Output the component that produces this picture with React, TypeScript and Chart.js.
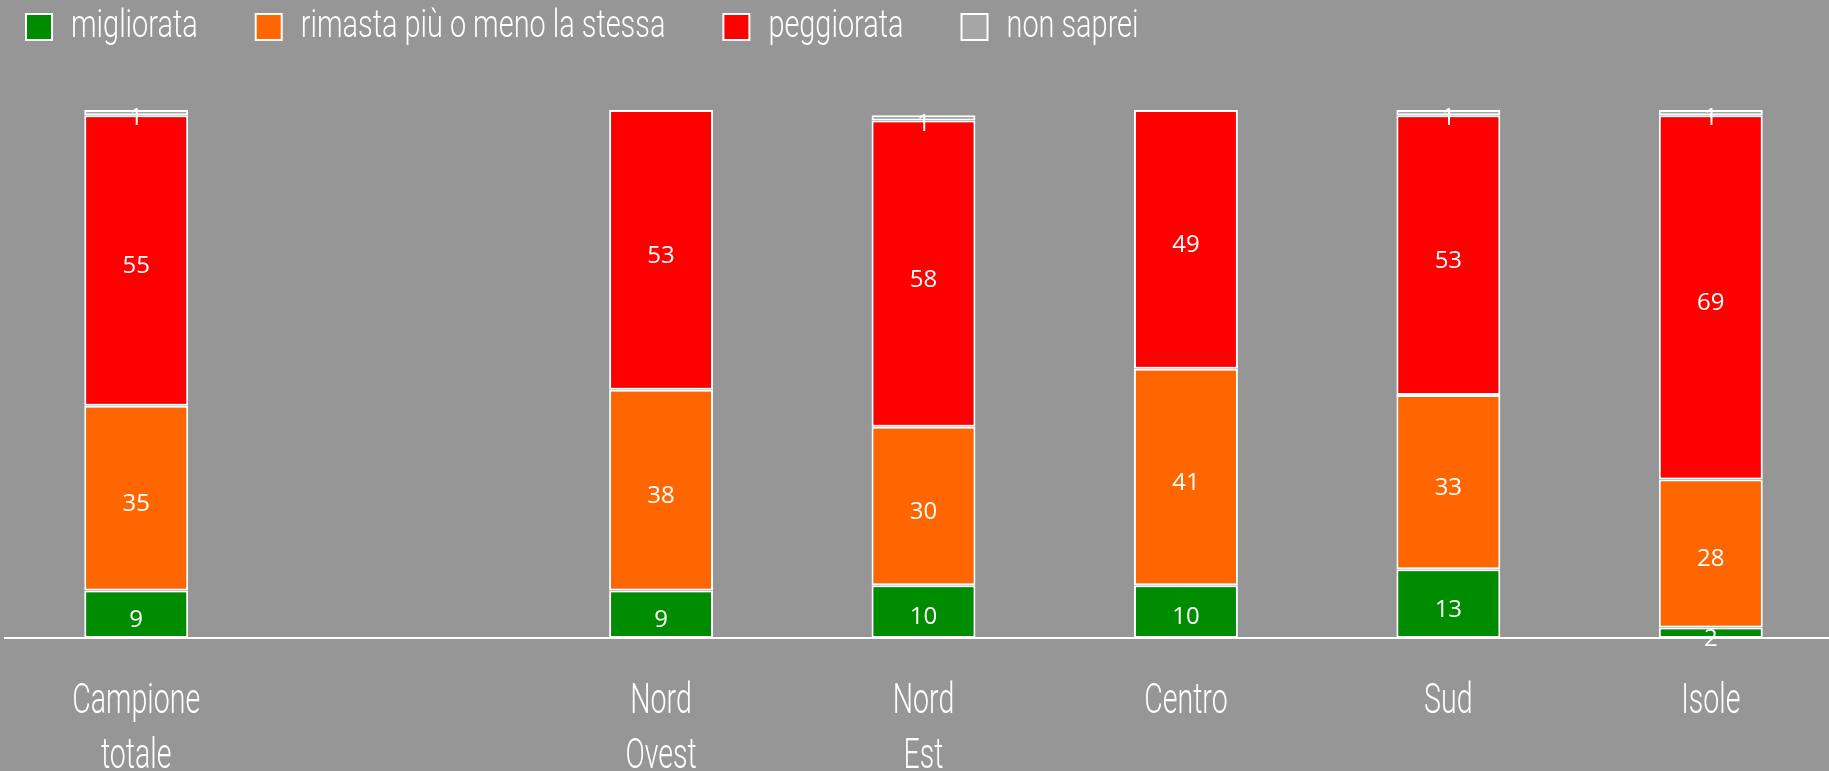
import React, { useEffect, useRef } from 'react';
import { Chart, registerables } from 'chart.js';

Chart.register(...registerables);

const categories: (string | string[])[] = [
  ['Campione', 'totale'],
  '',
  ['Nord', 'Ovest'],
  ['Nord', 'Est'],
  'Centro',
  'Sud',
  'Isole',
];
const seriesNames = ['migliorata', 'rimasta più o meno la stessa', 'peggiorata', 'non saprei'];
const migliorata = [9, null, 9, 10, 10, 13, 2];
const rimasta = [35, null, 38, 30, 41, 33, 28];
const peggiorata = [55, null, 53, 58, 49, 53, 69];
const nonSaprei = [1, null, 0, 1, 0, 1, 1];
const seriesColors = ['#008c00', '#ff6600', '#ff0000', '#a6a6a6'];

const BG = '#969696';
const TEXT_FAMILY = "Roboto, 'DejaVu Sans', sans-serif";
const LABEL_FAMILY = "'Open Sans', 'DejaVu Sans', sans-serif";
const LEGEND_SIZE = 38;
const TICK_SIZE = 42;
const K_LEGEND = 0.76;
const K_TICK = 0.68;

export default function App() {
  const ref = useRef<HTMLCanvasElement>(null);

  useEffect(() => {
    document.documentElement.style.overflow = 'hidden';
    document.body.style.margin = '0';
    document.body.style.overflow = 'hidden';
    document.body.style.background = BG;
    const canvas = ref.current;
    if (!canvas) return;

    // Horizontally condensed rendering for the narrow legend / axis typeface
    const ctx2d: any = canvas.getContext('2d');
    const origMeasure = ctx2d.measureText.bind(ctx2d);
    const origFill = ctx2d.fillText.bind(ctx2d);
    const factor = () => {
      const f = String(ctx2d.font);
      if (f.indexOf('Roboto') === -1) return 1;
      return f.indexOf(`${LEGEND_SIZE}px`) !== -1 ? K_LEGEND : K_TICK;
    };
    ctx2d.measureText = (t: string) => {
      const m = origMeasure(t);
      const k = factor();
      if (k === 1) return m;
      return {
        width: m.width * k,
        actualBoundingBoxLeft: m.actualBoundingBoxLeft * k,
        actualBoundingBoxRight: m.actualBoundingBoxRight * k,
        actualBoundingBoxAscent: m.actualBoundingBoxAscent,
        actualBoundingBoxDescent: m.actualBoundingBoxDescent,
        fontBoundingBoxAscent: m.fontBoundingBoxAscent,
        fontBoundingBoxDescent: m.fontBoundingBoxDescent,
      };
    };
    ctx2d.fillText = (t: string, x: number, y: number, maxWidth?: number) => {
      const k = factor();
      if (k === 1) {
        return maxWidth === undefined ? origFill(t, x, y) : origFill(t, x, y, maxWidth);
      }
      const w = Math.max(origMeasure(t).width * k, 0.01);
      return origFill(t, x, y, maxWidth === undefined ? w : Math.min(w, maxWidth));
    };

    const P = 58;

    const bgPlugin = {
      id: 'bgPlugin',
      beforeDraw(chart: any) {
        const c = chart.ctx;
        c.save();
        c.fillStyle = BG;
        c.fillRect(0, 0, chart.width, chart.height);
        c.restore();
      },
      afterLayout(chart: any) {
        const lg = chart.legend;
        if (!lg) return;
        const dx = 26 - (lg.left + P);
        lg.left += dx;
        lg.right += dx;
        const dy = 8 - (lg.top + P);
        lg.top += dy;
        lg.bottom += dy;
      },
    };

    const valuePlugin = {
      id: 'valuePlugin',
      afterDatasetsDraw(chart: any) {
        const c = chart.ctx;
        c.save();
        c.font = `24px ${LABEL_FAMILY}`;
        c.fillStyle = '#ffffff';
        c.textAlign = 'center';
        c.textBaseline = 'middle';
        chart.data.datasets.forEach((ds: any, di: number) => {
          const meta = chart.getDatasetMeta(di);
          meta.data.forEach((el: any, i: number) => {
            const v = ds.data[i];
            if (v == null || v === 0) return;
            const { x, y, base } = el.getProps(['x', 'y', 'base'], true);
            c.fillText(String(v), x, (y + base) / 2 + 6);
          });
        });
        c.restore();
      },
    };

    const seriesData = [migliorata, rimasta, peggiorata, nonSaprei];

    const chart = new Chart(canvas, {
      type: 'bar',
      data: {
        labels: categories,
        datasets: seriesNames.map((name, i) => ({
          label: name,
          data: seriesData[i],
          backgroundColor: seriesColors[i],
          borderColor: '#ffffff',
          borderWidth: 2,
          borderSkipped: false,
          barPercentage: 0.396,
          categoryPercentage: 1,
        })),
      },
      options: {
        animation: false,
        responsive: false,
        maintainAspectRatio: false,
        events: [],
        layout: { padding: { left: 5, right: 0, top: 110 - (LEGEND_SIZE + P + 10), bottom: 0 } },
        scales: {
          x: {
            stacked: true,
            grid: { display: false, drawTicks: false },
            border: { display: true, color: '#ffffff', width: 2 },
            ticks: {
              color: '#ffffff',
              padding: 37,
              autoSkip: false,
              maxRotation: 0,
              minRotation: 0,
              font: { family: TEXT_FAMILY, size: TICK_SIZE, weight: '300', lineHeight: 55 / TICK_SIZE },
            },
            afterFit: (s: any) => {
              s.height = 133;
            },
          },
          y: { stacked: true, display: false, min: 0, max: 100 },
        },
        plugins: {
          legend: {
            position: 'top',
            align: 'start',
            labels: {
              boxWidth: 26,
              boxHeight: 26,
              padding: P,
              color: '#ffffff',
              font: { family: TEXT_FAMILY, size: LEGEND_SIZE, weight: '300' },
            },
          },
          tooltip: { enabled: false },
        },
      },
      plugins: [bgPlugin, valuePlugin],
    } as any);

    return () => chart.destroy();
  }, []);

  return (
    <canvas
      ref={ref}
      width={1842}
      height={771}
      style={{ position: 'absolute', left: 0, top: 0, width: 1842, height: 771 }}
    />
  );
}
